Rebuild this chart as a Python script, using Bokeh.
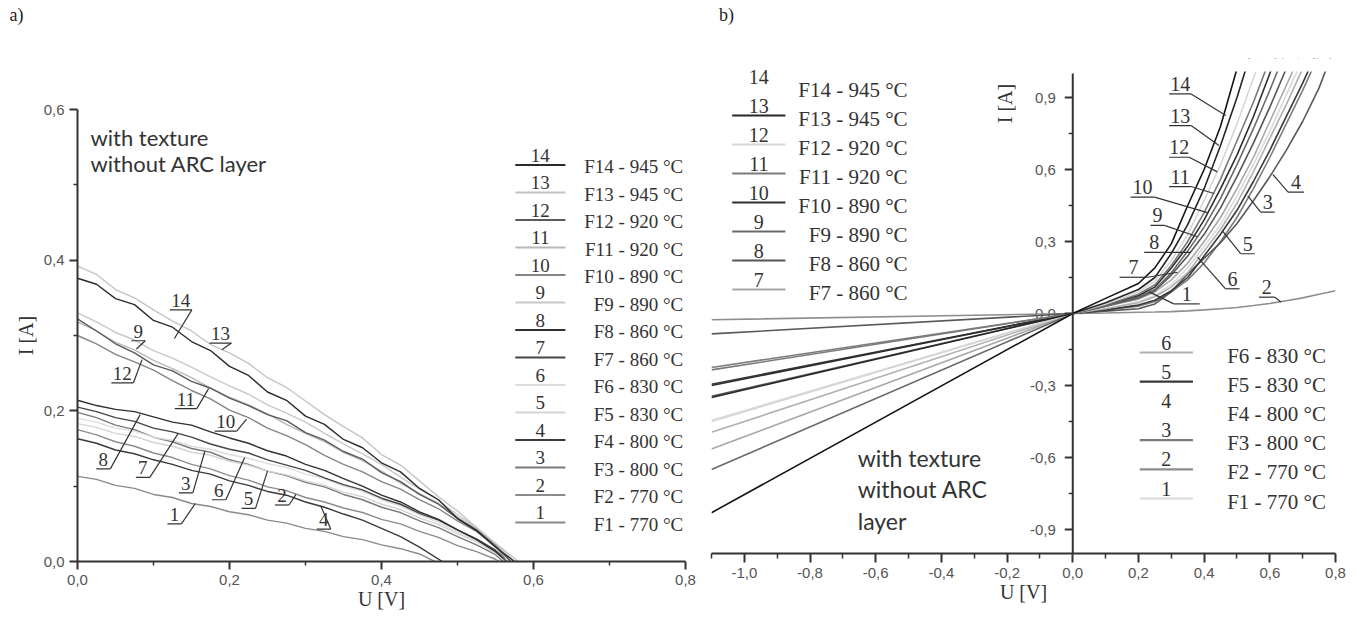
from bokeh.plotting import figure
from bokeh.models import ColumnDataSource, LabelSet, Label, FixedTicker, CustomJSTickFormatter, Range1d, BoxAnnotation
from bokeh.layouts import row, column
from bokeh.core.properties import value
from bokeh.embed import file_html
from bokeh.resources import INLINE

SERIF = "Liberation Serif"
SANS = "Liberation Sans"
NOTE = "Lato"

# ---------------- data: panel a (illuminated I-V, noisy measurements) ----------------
a_ids = [14, 13, 12, 11, 10, 9, 8, 7, 6, 5, 4, 3, 2, 1]
temps = ["945", "945", "920", "920", "890", "890", "860", "860", "830", "830", "800", "800", "770", "770"]
a_v_grid = [0.0, 0.025, 0.05, 0.075, 0.10, 0.125, 0.15, 0.175, 0.20, 0.225, 0.25, 0.275,
            0.30, 0.325, 0.35, 0.375, 0.40, 0.425, 0.45, 0.475, 0.50, 0.525, 0.55]
a_i14 = [0.376, 0.368, 0.349, 0.341, 0.320, 0.311, 0.292, 0.280, 0.259, 0.247, 0.225, 0.214,
         0.193, 0.182, 0.162, 0.151, 0.131, 0.119, 0.097, 0.082, 0.057, 0.041, 0.019]
a_i13 = [0.392, 0.381, 0.361, 0.350, 0.334, 0.319, 0.306, 0.288, 0.277, 0.263, 0.244, 0.231,
         0.213, 0.195, 0.179, 0.164, 0.142, 0.128, 0.107, 0.086, 0.067, 0.045, 0.024]
a_i12 = [0.322, 0.306, 0.289, 0.277, 0.261, 0.253, 0.239, 0.230, 0.217, 0.207, 0.195, 0.187,
         0.171, 0.161, 0.146, 0.136, 0.118, 0.106, 0.089, 0.076, 0.057, 0.042, 0.021]
a_i11 = [0.318, 0.306, 0.291, 0.281, 0.267, 0.256, 0.244, 0.230, 0.218, 0.208, 0.196, 0.182,
         0.170, 0.159, 0.145, 0.134, 0.120, 0.104, 0.090, 0.077, 0.059, 0.043, 0.023]
a_i10 = [0.300, 0.289, 0.275, 0.265, 0.254, 0.240, 0.227, 0.216, 0.201, 0.191, 0.177, 0.167,
         0.155, 0.141, 0.129, 0.119, 0.106, 0.096, 0.082, 0.070, 0.054, 0.040, 0.021]
a_i9 = [0.330, 0.318, 0.304, 0.294, 0.280, 0.270, 0.258, 0.245, 0.233, 0.222, 0.208, 0.197,
        0.185, 0.170, 0.156, 0.143, 0.129, 0.112, 0.096, 0.081, 0.062, 0.045, 0.024]
a_i8 = [0.214, 0.207, 0.202, 0.199, 0.192, 0.185, 0.181, 0.172, 0.164, 0.157, 0.147, 0.140,
        0.129, 0.121, 0.110, 0.100, 0.088, 0.079, 0.066, 0.056, 0.042, 0.029, 0.013]
a_i7 = [0.205, 0.199, 0.191, 0.186, 0.177, 0.172, 0.165, 0.156, 0.149, 0.144, 0.135, 0.128,
        0.121, 0.111, 0.102, 0.095, 0.084, 0.076, 0.064, 0.055, 0.042, 0.030, 0.015]
a_i6 = [0.190, 0.185, 0.177, 0.173, 0.165, 0.161, 0.153, 0.149, 0.142, 0.137, 0.130, 0.125,
        0.116, 0.110, 0.100, 0.093, 0.082, 0.074, 0.062, 0.052, 0.039, 0.027, 0.012]
a_i5 = [0.183, 0.178, 0.170, 0.166, 0.158, 0.153, 0.145, 0.141, 0.133, 0.128, 0.120, 0.115,
        0.107, 0.101, 0.092, 0.086, 0.076, 0.069, 0.058, 0.049, 0.037, 0.026, 0.011]
a_i4 = [0.163, 0.157, 0.148, 0.143, 0.135, 0.129, 0.121, 0.116, 0.107, 0.101, 0.093, 0.088,
        0.079, 0.072, 0.063, 0.055, 0.044, 0.033, 0.019]
a_i3 = [0.198, 0.191, 0.181, 0.175, 0.165, 0.159, 0.150, 0.145, 0.135, 0.129, 0.120, 0.114,
        0.105, 0.099, 0.089, 0.082, 0.072, 0.065, 0.054, 0.045, 0.033, 0.022, 0.009]
a_i2 = [0.175, 0.168, 0.159, 0.153, 0.144, 0.138, 0.129, 0.123, 0.114, 0.108, 0.099, 0.094,
        0.085, 0.079, 0.071, 0.065, 0.056, 0.050, 0.040, 0.032, 0.021, 0.013, 0.003]
a_i1 = [0.113, 0.109, 0.101, 0.097, 0.089, 0.085, 0.077, 0.073, 0.066, 0.062, 0.055, 0.051,
        0.044, 0.040, 0.033, 0.029, 0.022, 0.017, 0.010]
a_voc = [0.575, 0.58, 0.57, 0.57, 0.565, 0.575, 0.565, 0.565, 0.565, 0.565, 0.48, 0.56, 0.555, 0.47]
a_xticks = [0.0, 0.2, 0.4, 0.6, 0.8]
a_xminor = [0.1, 0.3, 0.5, 0.7]
a_yticks = [0.0, 0.2, 0.4, 0.6]
a_yminor = [0.1, 0.3, 0.5]

# ---------------- data: panel b (dark I-V) ----------------
b_v_rev = [-1.1, 0.0]
b_i_rev = [-0.83, -0.35, -0.45, -0.235, -0.30, -0.65, -0.345, -0.565, -0.495, -0.295, -0.085, -0.225, -0.026, -0.445]
b_v_grid = [0.0, 0.1, 0.2, 0.25, 0.3, 0.35, 0.4, 0.45, 0.5, 0.55, 0.6, 0.65, 0.7, 0.75, 0.8]
b_f14 = [0, 0.063, 0.125, 0.19, 0.29, 0.45, 0.60, 0.78, 1.02]
b_f13 = [0, 0.045, 0.10, 0.15, 0.25, 0.37, 0.52, 0.70, 0.90, 1.12]
b_f12 = [0, 0.04, 0.09, 0.135, 0.22, 0.33, 0.47, 0.62, 0.79, 0.98, 1.16]
b_f11 = [0, 0.035, 0.08, 0.12, 0.20, 0.30, 0.42, 0.56, 0.72, 0.88, 1.06]
b_f10 = [0, 0.035, 0.075, 0.11, 0.19, 0.28, 0.39, 0.52, 0.66, 0.82, 1.00, 1.18]
b_f9 = [0, 0.03, 0.07, 0.10, 0.17, 0.26, 0.36, 0.48, 0.62, 0.77, 0.93, 1.10]
b_f8 = [0, 0.03, 0.065, 0.095, 0.16, 0.24, 0.33, 0.44, 0.57, 0.71, 0.86, 1.02]
b_f7 = [0, 0.03, 0.06, 0.09, 0.14, 0.21, 0.30, 0.40, 0.52, 0.65, 0.80, 0.95, 1.10]
b_f6 = [0, 0.02, 0.045, 0.07, 0.11, 0.17, 0.26, 0.35, 0.46, 0.59, 0.73, 0.87, 1.02]
b_f5 = [0, 0.015, 0.035, 0.055, 0.095, 0.15, 0.24, 0.33, 0.43, 0.55, 0.68, 0.82, 0.96, 1.11]
b_f4 = [0, 0.01, 0.02, 0.04, 0.09, 0.165, 0.23, 0.295, 0.375, 0.47, 0.57, 0.68, 0.80, 0.94, 1.12]
b_f3 = [0, 0.015, 0.03, 0.05, 0.09, 0.14, 0.21, 0.30, 0.40, 0.52, 0.65, 0.79, 0.93, 1.08]
b_f2 = [0, 0.002, 0.005, 0.006, 0.008, 0.011, 0.015, 0.02, 0.025, 0.033, 0.042, 0.053, 0.065, 0.08, 0.095]
b_f1 = [0, 0.02, 0.05, 0.075, 0.12, 0.19, 0.28, 0.37, 0.49, 0.62, 0.76, 0.91, 1.06]
b_xticks = [-1.0, -0.8, -0.6, -0.4, -0.2, 0.0, 0.2, 0.4, 0.6, 0.8]
b_xminor = [-1.1, -0.9, -0.7, -0.5, -0.3, -0.1, 0.1, 0.3, 0.5, 0.7]
b_yticks = [-0.9, -0.6, -0.3, 0.0, 0.3, 0.6, 0.9]
b_yminor = [-0.75, -0.45, -0.15, 0.15, 0.45, 0.75]
b_ymax = 1.0

a_curves = dict(zip(a_ids, [a_i14, a_i13, a_i12, a_i11, a_i10, a_i9, a_i8, a_i7, a_i6, a_i5, a_i4, a_i3, a_i2, a_i1]))
b_curves = dict(zip(a_ids, [b_f14, b_f13, b_f12, b_f11, b_f10, b_f9, b_f8, b_f7, b_f6, b_f5, b_f4, b_f3, b_f2, b_f1]))

# ---------------- styles ----------------
a_colors = dict(zip(a_ids, ["#2b2b2b", "#c4c4c4", "#5a5a5a", "#b8b8b8", "#858585", "#c8c8c8",
                            "#303030", "#454545", "#dcdcdc", "#d4d4d4", "#3a3a3a", "#7a7a7a", "#8c8c8c", "#8a8a8a"]))
b_colors = dict(zip(a_ids, ["#141414", "#262626", "#d6d6d6", "#7a7a7a", "#2e2e2e", "#6a6a6a",
                            "#555555", "#a8a8a8", "#b0b0b0", "#383838", "#585858", "#7c7c7c", "#8e8e8e", "#dadada"]))
b_legend_line = dict(zip(a_ids, [False, True, True, True, True, True, True, True, True, True, False, True, True, True]))
AX = "#333333"
TICK_TXT = "#555555"
HEAD_H = 30

fmt = CustomJSTickFormatter(code="return tick.toFixed(1).replace('.', ',');")


def style_axis(ax):
    ax.axis_line_width = 2
    ax.axis_line_color = AX
    ax.major_tick_line_width = 2
    ax.major_tick_line_color = AX
    ax.minor_tick_line_width = 1.5
    ax.minor_tick_line_color = AX
    ax.major_tick_in = 0
    ax.major_tick_out = 8
    ax.minor_tick_in = 0
    ax.minor_tick_out = 4
    ax.major_label_text_font = SANS
    ax.major_label_text_font_size = "15px"
    ax.major_label_text_color = TICK_TXT
    ax.major_label_standoff = 5
    ax.axis_label_text_font = SERIF
    ax.axis_label_text_font_size = "20px"
    ax.axis_label_text_font_style = "normal"
    ax.axis_label_text_color = AX
    ax.formatter = fmt


def labelset(xs, ys, texts, size, align="center", baseline="alphabetic"):
    return LabelSet(source=ColumnDataSource(dict(x=xs, y=ys, t=texts)), x="x", y="y", text="t",
                    text_align=align, text_baseline=baseline, text_font=SERIF,
                    text_font_size=size, text_color=AX)


# ================= header strip with panel letters =================
head = figure(width=1359, height=HEAD_H, x_range=Range1d(0, 1359), y_range=Range1d(0, HEAD_H),
              output_backend="svg", toolbar_location=None, x_axis_location=None, y_axis_location=None,
              min_border=0)
head.frame_align = False
head.outline_line_color = None
head.grid.visible = False
head.text([16, 726], [HEAD_H - 14, HEAD_H - 14], text=["a)", "b)"], text_align="center",
          text_baseline="middle", text_font=value(SERIF), text_font_size="18px", text_color="#222222")

# ================= panel a =================
pa = figure(width=705, height=617 - HEAD_H, x_range=Range1d(0, 0.8), y_range=Range1d(0, 0.6),
            output_backend="svg", toolbar_location=None,
            min_border_left=77, min_border_right=20, min_border_top=109 - HEAD_H, min_border_bottom=56)
pa.frame_align = False
pa.outline_line_color = None
pa.grid.visible = False
pa.xaxis.ticker = FixedTicker(ticks=a_xticks, minor_ticks=a_xminor)
pa.yaxis.ticker = FixedTicker(ticks=a_yticks, minor_ticks=a_yminor)
style_axis(pa.xaxis[0])
style_axis(pa.yaxis[0])
pa.xaxis.axis_label = "U [V]"
pa.yaxis.axis_label = "I [A]"
pa.xaxis.axis_label_standoff = 0
pa.yaxis.axis_label_standoff = 4

for k, voc in zip(reversed(a_ids), reversed(a_voc)):
    ii = a_curves[k]
    vv = a_v_grid[:len(ii)] + [voc]
    pa.line(vv, ii + [0.0], line_color=a_colors[k], line_width=1.4)

APX = 1 / 760.0
APY = 1 / 753.3
# curve number labels (underline center x, underline y, leader end x, leader end y)
a_lab = [(14, 0.136, 0.334, 0.1275, 0.296), (13, 0.188, 0.290, 0.19, 0.281),
         (9, 0.080, 0.293, 0.0775, 0.282), (12, 0.059, 0.237, 0.085, 0.268),
         (11, 0.1425, 0.203, 0.1725, 0.2295), (10, 0.195, 0.173, 0.2225, 0.189),
         (8, 0.034, 0.123, 0.0825, 0.195), (7, 0.086, 0.1116, 0.1325, 0.170),
         (3, 0.1425, 0.091, 0.1675, 0.146), (6, 0.186, 0.082, 0.22, 0.138),
         (5, 0.225, 0.0706, 0.25, 0.120), (2, 0.269, 0.075, 0.2875, 0.089),
         (1, 0.1275, 0.050, 0.155, 0.077), (4, 0.324, 0.043, 0.32, 0.074)]
ux0, ux1, uys, lx0, ly0, lx1, ly1, txt = [], [], [], [], [], [], [], []
for k, cx, uy, ex, ey in a_lab:
    hw = (11 if k >= 10 else 7) * APX
    ux0.append(cx - hw); ux1.append(cx + hw); uys.append(uy)
    lx0.append(cx + hw); ly0.append(uy); lx1.append(ex); ly1.append(ey)
    txt.append(str(k))
pa.segment(ux0, uys, ux1, uys, line_color=AX, line_width=1.2)
pa.segment(lx0, ly0, lx1, ly1, line_color=AX, line_width=1.2)
pa.add_layout(labelset([(a + b) / 2 for a, b in zip(ux0, ux1)], [y + 3 * APY for y in uys], txt, "19px"))

# legend a
leg_top_y = (561 - 164.5) * APY
leg_dy = 27.5 * APY
lx_a0, lx_a1, ltxt_x = 0.576, 0.642, 0.797
rows_y = [leg_top_y - i * leg_dy for i in range(len(a_ids))]
pa.segment([lx_a0] * len(a_ids), rows_y, [lx_a1] * len(a_ids), rows_y,
           line_color=[a_colors[k] for k in a_ids], line_width=2.2)
pa.add_layout(labelset([(lx_a0 + lx_a1) / 2] * len(a_ids), [y + 3 * APY for y in rows_y],
                       [str(k) for k in a_ids], "19px"))
pa.add_layout(labelset([ltxt_x] * len(a_ids), [y - 2 * APY for y in rows_y],
                       ["F%d - %s \u00b0C" % (k, t) for k, t in zip(a_ids, temps)], "19px",
                       align="right", baseline="middle"))

pa.add_layout(Label(x=(90 - 77) * APX, y=(561 - 137) * APY, text="with texture", text_baseline="middle",
                    text_font=NOTE, text_font_size="22px", text_color=AX))
pa.add_layout(Label(x=(90 - 77) * APX, y=(561 - 163) * APY, text="without ARC layer", text_baseline="middle",
                    text_font=NOTE, text_font_size="22px", text_color=AX))

# ================= panel b =================
BPX = 1 / 328.4
BPY = 1 / 240.0
B_TOP = 58  # canvas row of frame top (frame reaches a little above I = 1.0 for the legend)
pb = figure(width=654, height=617 - HEAD_H, x_range=Range1d(-1.1, 0.8),
            y_range=Range1d(-1.0, (313 - B_TOP) * BPY),
            output_backend="svg", toolbar_location=None, y_axis_location=None,
            min_border_left=6, min_border_right=24, min_border_top=B_TOP - HEAD_H, min_border_bottom=64)
pb.frame_align = False
pb.outline_line_color = None
pb.grid.visible = False
pb.xaxis.ticker = FixedTicker(ticks=b_xticks, minor_ticks=b_xminor)
style_axis(pb.xaxis[0])
pb.xaxis.major_tick_out = 9
pb.xaxis.minor_tick_out = 5
pb.xaxis.axis_label = "U [V]"
pb.xaxis.axis_label_standoff = 0

# y tick labels (drawn under the curves)
pb.text([-17 * BPX] * len(b_yticks), b_yticks, text=[("%.1f" % t).replace(".", ",") for t in b_yticks],
        text_align="right", text_baseline="middle", text_font=value(SANS), text_font_size="15px",
        text_color=TICK_TXT)

for k in reversed(a_ids):
    ii = b_curves[k]
    vv = b_v_rev + b_v_grid[1:len(ii)]
    yy = [b_i_rev[a_ids.index(k)], 0.0] + ii[1:]
    pb.line(vv, yy, line_color=b_colors[k], line_width=1.6)

# white mask: the curves end at the top of the plotted range (I = 1.0)
pb.add_layout(BoxAnnotation(left=0.006, bottom=b_ymax + 2 * BPY, fill_color="white", fill_alpha=1.0,
                            line_alpha=0.0))

# manual vertical axis at U = 0
pb.segment([0], [-1.0], [0], [b_ymax], line_color=AX, line_width=2)
pb.segment([-8 * BPX] * len(b_yticks), b_yticks, [0] * len(b_yticks), b_yticks, line_color=AX, line_width=2)
pb.segment([-4 * BPX] * len(b_yminor), b_yminor, [0] * len(b_yminor), b_yminor, line_color=AX, line_width=1.5)
pb.add_layout(Label(x=(1004 - 1072) * BPX, y=(313 - 103) * BPY, text="I [A]", angle=90, angle_units="deg",
                    text_align="center", text_baseline="middle", text_font=SERIF, text_font_size="20px",
                    text_color=AX))

# curve number labels in b: (id, underline center x, underline y, leader end x, leader end y, leader side)
b_lab = [(14, 0.327, 0.915, 0.466, 0.825, "r"), (13, 0.327, 0.783, 0.445, 0.70, "r"),
         (12, 0.324, 0.651, 0.44, 0.59, "r"), (11, 0.327, 0.529, 0.43, 0.50, "r"),
         (10, 0.2125, 0.485, 0.41, 0.42, "r"), (9, 0.258, 0.367, 0.38, 0.32, "r"),
         (8, 0.248, 0.255, 0.36, 0.255, "r"), (7, 0.185, 0.151, 0.319, 0.172, "r"),
         (1, 0.347, 0.040, 0.233, 0.09, "l"), (6, 0.4865, 0.103, 0.38, 0.235, "l"),
         (5, 0.5325, 0.249, 0.455, 0.345, "l"), (3, 0.5935, 0.422, 0.533, 0.49, "l"),
         (4, 0.68, 0.506, 0.609, 0.58, "l"), (2, 0.591, 0.068, 0.634, 0.048, "r")]
b_ul = {14: 11, 13: 11, 12: 10, 11: 11, 10: 12, 9: 7, 8: 10, 7: 14, 1: 13, 6: 7, 5: 7, 3: 7, 4: 8, 2: 8}
ux0, ux1, uys, lx0, ly0, lx1, ly1, txt = [], [], [], [], [], [], [], []
for k, cx, uy, ex, ey, side in b_lab:
    hw = b_ul[k] * BPX
    ux0.append(cx - hw); ux1.append(cx + hw); uys.append(uy)
    lx0.append(cx + hw if side == "r" else cx - hw); ly0.append(uy); lx1.append(ex); ly1.append(ey)
    txt.append(str(k))
pb.segment(ux0, uys, ux1, uys, line_color=AX, line_width=1.2)
pb.segment(lx0, ly0, lx1, ly1, line_color=AX, line_width=1.2)
pb.add_layout(labelset([(a + b) / 2 for a, b in zip(ux0, ux1)], [y + 3 * BPY for y in uys], txt, "20px"))

# legends in b
top_ids = a_ids[:8]
bot_ids = a_ids[8:]
t_y = [(313 - (86 + i * 29)) * BPY for i in range(len(top_ids))]
b_y = [(313 - (352 + i * 29.2)) * BPY for i in range(len(bot_ids))]
for ids, ys, x0, x1, xr in [(top_ids, t_y, -1.037, -0.875, -0.503), (bot_ids, b_y, 0.204, 0.366, 0.771)]:
    vis = [k for k in ids if b_legend_line[k]]
    vy = [ys[ids.index(k)] for k in vis]
    pb.segment([x0] * len(vis), vy, [x1] * len(vis), vy, line_color=[b_colors[k] for k in vis], line_width=2.2)
    pb.add_layout(labelset([(x0 + x1) / 2] * len(ids), [y + 3 * BPY for y in ys], [str(k) for k in ids], "20px"))
    pb.add_layout(labelset([xr] * len(ids), [y - 3 * BPY for y in ys],
                           ["F%d - %s \u00b0C" % (k, temps[a_ids.index(k)]) for k in ids], "21px",
                           align="right", baseline="middle"))

for i, line_txt in enumerate(["with texture", "without ARC", "layer"]):
    pb.add_layout(Label(x=(857 - 1072) * BPX, y=(313 - (457 + 31.5 * i)) * BPY, text=line_txt,
                        text_baseline="middle", text_font=NOTE, text_font_size="23px", text_color=AX))

layout = column(head, row(pa, pb))
open("out.html", "w").write(file_html(layout, INLINE))
